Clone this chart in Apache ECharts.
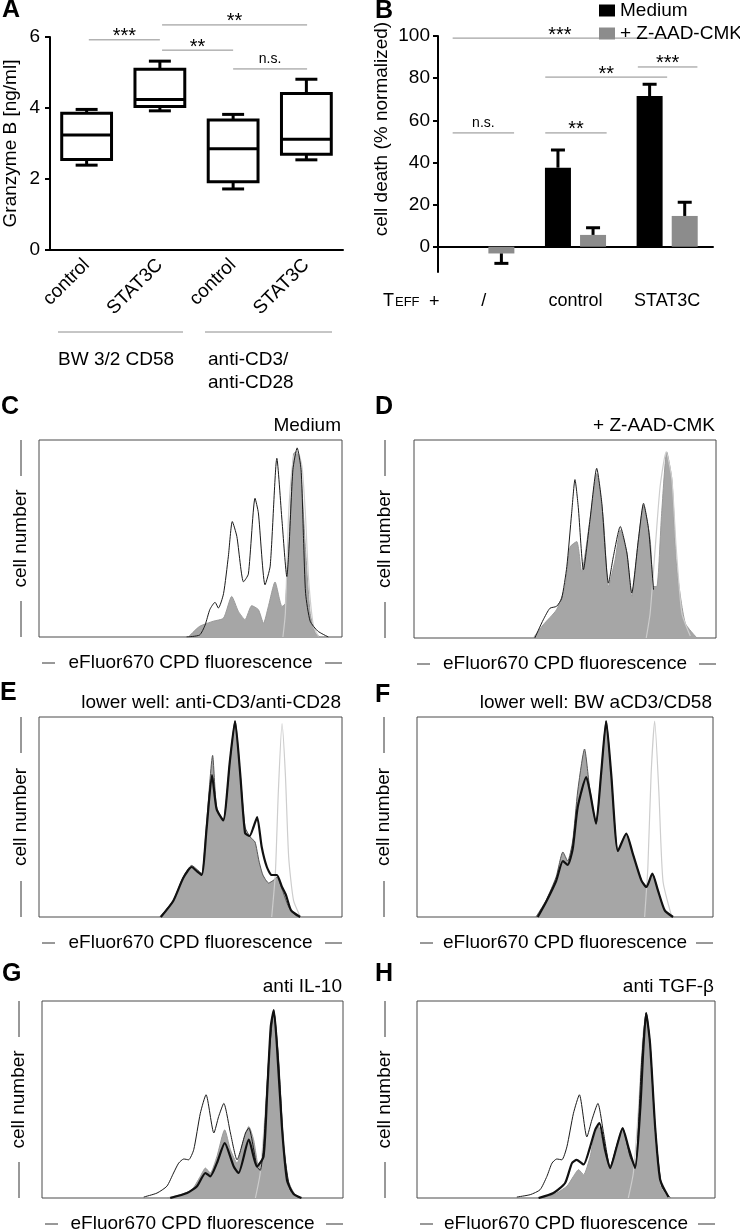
<!DOCTYPE html>
<html>
<head>
<meta charset="utf-8">
<script src="https://cdn.jsdelivr.net/npm/echarts@6/dist/echarts.min.js"></script>
<style>
html, body { margin: 0; padding: 0; background: #fff; }
#main { width: 740px; height: 1229px; }
</style>
</head>
<body>
<div id="main"></div>
<script>
var FONT = '"Liberation Sans", Arial, Helvetica, sans-serif';

// ---- panel A: granzyme B boxes
var gzbGroups = ['control', 'STAT3C', 'control', 'STAT3C'];
var gzbMin = [2.39, 3.92, 1.72, 2.54];
var gzbQ1 = [2.55, 4.04, 1.92, 2.70];
var gzbMedian = [3.24, 4.24, 2.85, 3.12];
var gzbQ3 = [3.85, 5.09, 3.66, 4.41];
var gzbMax = [3.96, 5.32, 3.82, 4.81];
var gzbTicks = [0, 2, 4, 6];
// [from, to, y, label], from/to in category units
var sigA = [[0.03, 1, 5.92, '***'], [1.03, 3.01, 6.34, '**'], [1.03, 2, 5.63, '**'], [2, 3.01, 5.10, 'n.s.']];

// ---- panel B: cell death
var deathCats = ['/', 'control', 'STAT3C'];
var deathMedium = [null, 37.5, 71.5];
var deathMediumErr = [null, 8.4, 5.6];
var deathZaad = [-3.2, 5.6, 14.6];
var deathZaadErr = [4.7, 3.4, 6.5];
var deathTicks = [0, 20, 40, 60, 80, 100];
var sigB = [[-0.34, 2, 99, '***'], [0.67, 2, 80.5, '**'], [1.68, 2.33, 85.3, '***'], [-0.34, 0.33, 54, 'n.s.'], [0.67, 1.34, 54, '**']];

// ---- histograms, [fluorescence %, cell number %]
var cFill = [[49.3,0],[53,5.4],[57.5,8],[60.9,9.6],[63.6,20.6],[65.8,13],[68,8.8],[70.2,15.9],[72.4,13.9],[74.1,7],[75.7,15.5],[77.9,27.9],[80.2,15.5],[81.3,17],[82.7,54],[84,93],[84.9,94],[86.2,88],[87.9,46],[89.5,12],[91.2,2],[92.8,0]];
var cOpen = [[48.7,0],[53,1],[54.8,6],[56.4,14],[58.1,17.6],[59.2,14.7],[60.9,22],[62.5,41],[63.8,58.6],[65.3,51],[67.5,28],[69.1,32],[71.3,70.4],[72.4,63],[74.6,26.5],[76.3,36],[78.5,90.7],[80.2,59],[81.8,30.7],[82.5,45],[83.8,85],[85.2,96],[86.5,85],[87.3,50],[88,22],[89.5,8],[92,3],[95.5,0]];
var cLight = [[80.5,0],[81.3,12],[82.4,63],[84,91.5],[85.4,94],[86.8,86.5],[87.9,63],[89,29],[90.6,5.4],[92.3,0.3]];

var dFill = [[39.5,0],[42.8,6.7],[47.2,14.3],[50,26],[51.7,46],[53.9,48.7],[55.5,33.6],[58.3,60],[60.5,83],[62.7,60],[64.4,26],[66.6,39.5],[68.3,54.6],[70.5,43],[72.1,21],[74.3,49.6],[76,67],[78.2,49.6],[79.3,26],[80.4,26],[82,63],[83.7,94],[85.4,80],[87,36],[89.8,7.6],[93.7,0]];
var dOpen = [[40,0],[42.8,9.2],[45,15],[47.2,16],[48.9,20],[50.6,36],[52.2,63],[53.3,80],[54.4,66],[56.1,34.5],[58.3,60],[60.5,85.7],[62.2,68],[64.4,27.7],[66,41],[68.3,56.3],[70.5,42.9],[72.1,22.7],[74.3,49.6],[76,68],[77.7,54.6],[79.3,24.4]];
var dLight = [[76.9,0],[78.2,12.6],[79.9,46],[81.5,76.5],[83.5,94],[85.4,80],[86.8,46],[88.7,12.6],[91.5,1]];

var eFill = [[39.9,0],[44.3,8.3],[47.6,20],[50.4,25.8],[52,24],[53.7,21.7],[55.3,46.7],[57.3,80.8],[58.6,55],[60.8,48.3],[63,78],[64.7,98],[66.4,71.7],[68,45],[69.7,40],[71.3,37.5],[72.6,28],[73.9,21],[75.8,17],[77.5,18.5],[78.5,20],[80.2,14],[82.4,5],[85,0.3]];
var eThick = [[40.2,0],[44.3,8],[47.6,19.5],[50.4,25],[52,23],[53.7,21],[55.3,44],[57.1,71],[58.6,54],[60.8,48.3],[63,78],[64.7,98],[66.4,71.7],[68,42],[69.5,40.5],[70.8,45],[72,50],[73.5,35],[75.2,25],[76.8,21],[78.5,21],[80.2,15],[81.5,11],[83.2,3.3],[86.2,0]];
var eLight = [[76.8,0],[78,21.7],[79,63],[80.2,96.7],[81.3,71.7],[82.4,30],[84,8.3],[86.2,0.3]];

var fFill = [[40.2,0],[43.6,8.3],[47,20],[49.3,32.5],[50.9,28],[52.6,38],[54.3,63],[56.6,84],[58.3,65],[60.5,46.7],[62.2,71.7],[63.9,98],[65.6,71.7],[67.9,33],[70.7,41.7],[72.9,31.7],[75.8,18.3],[77.5,15],[79.5,21.7],[81.4,13.3],[83.7,3.3],[86.5,0.3]];
var fThick = [[40.8,0],[43.6,7.5],[47,18],[49.3,28],[50.9,26],[52.6,34],[54.3,55],[57.2,70],[58.5,62],[60.5,46.7],[62.2,71.7],[63.9,98],[65.6,71.7],[67.9,33],[70.7,41.7],[72.9,31.7],[75.8,18.3],[77.5,15],[79.5,21.7],[81.4,13.3],[83.7,3.3],[86.5,0]];
var fLight = [[76.9,0],[78,25],[79.1,71.7],[80.3,98],[81.7,63],[83.1,18],[85.9,1]];

var gOpen = [[33.8,0.5],[38.2,2.5],[41.5,6],[43.7,12.7],[45.4,17.7],[47.1,19.8],[48.7,19.4],[50.4,24.5],[52.6,43],[54.5,52.4],[57.1,33],[58.7,41.4],[60.4,48],[62.6,33],[64.8,19.4],[67.6,33],[68.7,35.5],[71.4,16],[72.5,14],[73.6,26],[75.3,70],[77,94.6],[78.6,70],[80.3,26],[82.5,4],[85.3,0.3]];
var gFill = [[41.5,0],[46,1.7],[49.8,4.2],[52.6,11],[54.3,15.2],[55.9,12.7],[58.1,21],[60.7,34.6],[62.6,24.5],[64.8,17.7],[67,29.6],[68.7,36.3],[70.3,29.6],[72,16],[73.6,22.8],[74.8,53],[76,87],[77,95.4],[78,78.5],[79.7,36.3],[81.4,11],[83.6,2.5],[85.8,0.3]];
var gThick = [[42.6,0],[48.2,2.5],[51.5,6],[54.3,12.7],[55.9,11],[58.1,17.7],[60.7,27.9],[63.7,16],[65.3,12.7],[68.7,29.6],[71.4,16],[73.6,21],[74.8,53],[76,87],[77,95.4],[78,78.5],[79.7,36.3],[81.4,9],[83.6,2],[86.2,0]];
var gLight = [[70.9,0],[72.5,12.7],[74.2,44.8],[75.9,83.6],[77,94.6],[78.3,77],[80.1,33],[81.9,7.6],[84.7,0.5]];

var hOpen = [[33.5,0.5],[38,1.7],[41.3,4.2],[43.6,11],[45.3,17.7],[46.9,19.8],[48.6,19.4],[50.3,26],[52.5,43],[54.5,52.4],[57,31],[58.7,39.7],[60.7,48],[62.6,33],[64.8,16],[67.6,29.6],[69,35.5],[71.5,21],[73.2,16],[75.4,70],[76.9,94],[78.2,78.5],[79.9,36],[82.1,6],[84.9,0.3]];
var hFill = [[40.2,0],[45.8,1.7],[50.3,6],[52.5,11],[54.2,14.4],[55.9,11.8],[58.1,21],[59.4,31],[60.9,36.3],[62.6,26],[64.8,15.2],[67,26],[69,34.6],[70.9,26],[73.2,15.2],[74.9,44.8],[76,76.9],[76.9,93.8],[78.2,78.5],[79.9,36.3],[81.6,9.3],[84.4,0.5]];
var hThick = [[40.8,0],[45.8,2.5],[49.7,7.6],[52,17.7],[53.6,19.4],[55.9,17],[58.1,26],[59.8,34.6],[61.2,38],[63.1,24.5],[64.8,15.2],[67,26],[69,35.5],[70.9,26],[73.2,15.2],[74.9,44.8],[76,76.9],[76.9,93.8],[78.2,78.5],[79.9,36.3],[81.6,9.3],[84.4,0.5]];
var hLight = [[70.9,0],[72.6,12.7],[74.3,44.8],[75.8,82],[76.9,93.8],[78.2,77],[79.9,33],[81.8,6.8],[84.4,0.5]];

// layout
var gridA = {left: 47, top: 37, width: 296, height: 213};
var gridB = {left: 438, top: 36, width: 275, height: 236};
var histPanels = [
    {letter: 'C', lx: 1, ly: 407, box: [39, 440, 303, 197], title: 'Medium', yl: 21,
        curves: [[cFill, 'fill'], [cLight, 'light'], [cOpen, 'thin']]},
    {letter: 'D', lx: 375, ly: 407, box: [414, 440, 302, 198], title: '+ Z-AAD-CMK', yl: 385,
        curves: [[dFill, 'fill'], [dLight, 'light'], [dOpen, 'thin']]},
    {letter: 'E', lx: 0, ly: 693, box: [39, 717, 303, 200], title: 'lower well: anti-CD3/anti-CD28', yl: 21,
        curves: [[eFill, 'fillDark'], [eLight, 'light'], [eThick, 'thick']]},
    {letter: 'F', lx: 375, ly: 695, box: [417, 717, 296, 200], title: 'lower well: BW aCD3/CD58', yl: 384,
        curves: [[fFill, 'fillDark'], [fLight, 'light'], [fThick, 'thick']]},
    {letter: 'G', lx: 2, ly: 974, box: [42, 1001, 301, 197], title: 'anti IL-10', yl: 19,
        curves: [[gFill, 'fill'], [gLight, 'light'], [gOpen, 'thin'], [gThick, 'thick']]},
    {letter: 'H', lx: 375, ly: 974, box: [417, 1001, 298, 197], title: 'anti TGF-\u03b2', yl: 385,
        curves: [[hFill, 'fill'], [hLight, 'light'], [hOpen, 'thin'], [hThick, 'thick']]}
];

var curveStyle = {
    fill: {line: {color: '#9a9a9a', width: 1}, area: {color: '#a6a6a6', opacity: 1}, z: 2},
    fillDark: {line: {color: '#555', width: 1}, area: {color: '#a6a6a6', opacity: 1}, z: 2},
    light: {line: {color: '#cdcdcd', width: 1.2}, z: 3},
    thin: {line: {color: '#1a1a1a', width: 1}, z: 4},
    thick: {line: {color: '#111', width: 2.2}, z: 5}
};

function txt(x, y, s, size, opt) {
    opt = opt || {};
    return {
        type: 'text', x: x, y: y, rotation: opt.rot || 0, silent: true,
        style: {
            text: s, fontSize: size, fontFamily: FONT, fontWeight: opt.bold ? 'bold' : 'normal',
            fill: opt.color || '#000', align: opt.align || 'left', verticalAlign: opt.va || 'middle',
            lineHeight: opt.lh
        }
    };
}
function seg(x1, y1, x2, y2, color, w) {
    return {type: 'line', silent: true, shape: {x1: x1, y1: y1, x2: x2, y2: y2},
        style: {stroke: color || '#333', lineWidth: w || 1}};
}

var axisFont = {fontSize: 19, fontFamily: FONT, color: '#000'};
var grids = [gridA, gridB];
var xAxes = [], yAxes = [], series = [], graphics = [];

// ---- A axes
xAxes.push({
    gridIndex: 0, type: 'category', data: gzbGroups,
    axisLine: {lineStyle: {color: '#000', width: 2}},
    axisTick: {alignWithLabel: true, length: 8, lineStyle: {color: '#000', width: 2}},
    axisLabel: Object.assign({rotate: 45, margin: 12, interval: 0}, axisFont)
});
yAxes.push({
    gridIndex: 0, type: 'value', min: 0, max: 6,
    axisLine: {show: true, lineStyle: {color: '#000', width: 2}},
    axisTick: {show: true, length: 5, customValues: gzbTicks, lineStyle: {color: '#000', width: 2}},
    axisLabel: Object.assign({margin: 10, customValues: gzbTicks}, axisFont),
    splitLine: {show: false},
    name: 'Granzyme B [ng/ml]', nameLocation: 'middle', nameGap: 30, nameTextStyle: axisFont
});

// ---- B axes
xAxes.push({
    gridIndex: 1, type: 'category', data: deathCats,
    axisLine: {onZero: true, lineStyle: {color: '#000', width: 2}},
    axisTick: {show: false},
    axisLabel: Object.assign({margin: 20, interval: 0}, axisFont, {fontSize: 18})
});
yAxes.push({
    gridIndex: 1, type: 'value', min: -12, max: 100,
    axisLine: {show: true, lineStyle: {color: '#000', width: 2}},
    axisTick: {show: true, length: 5, customValues: deathTicks, lineStyle: {color: '#000', width: 2}},
    axisLabel: Object.assign({margin: 8, customValues: deathTicks}, axisFont),
    splitLine: {show: false}
});

function sigRender(list) {
    return function (params, api) {
        var d = list[params.dataIndex];
        var band = api.size([1, 0])[0];
        var p = api.coord([0, d[2]]);
        var x1 = p[0] + d[0] * band, x2 = p[0] + d[1] * band, y = p[1];
        var ns = d[3] === 'n.s.';
        return {type: 'group', children: [
            seg(x1, y, x2, y, '#8c8c8c', 1),
            {type: 'text', style: {text: d[3], x: (x1 + x2) / 2, y: y - (ns ? 10 : 3),
                align: 'center', verticalAlign: 'middle', fontSize: ns ? 14 : 20, fontFamily: FONT, fill: '#000'}}
        ]};
    };
}

// boxes
series.push({
    type: 'custom', xAxisIndex: 0, yAxisIndex: 0, z: 3,
    data: gzbGroups.map(function (g, i) { return [i, gzbMin[i], gzbQ1[i], gzbMedian[i], gzbQ3[i], gzbMax[i]]; }),
    encode: {x: 0, y: [1, 2, 3, 4, 5]},
    renderItem: function (params, api) {
        var i = api.value(0);
        var band = api.size([1, 0])[0];
        var x = api.coord([i, 0])[0];
        var hw = band * 0.34, cw = band * 0.15;
        var yMin = api.coord([i, api.value(1)])[1];
        var yQ1 = api.coord([i, api.value(2)])[1];
        var yMed = api.coord([i, api.value(3)])[1];
        var yQ3 = api.coord([i, api.value(4)])[1];
        var yMax = api.coord([i, api.value(5)])[1];
        return {type: 'group', children: [
            {type: 'rect', shape: {x: x - hw, y: yQ3, width: 2 * hw, height: yQ1 - yQ3},
                style: {stroke: '#000', lineWidth: 3, fill: 'none'}},
            seg(x - hw, yMed, x + hw, yMed, '#000', 3),
            seg(x, yQ3, x, yMax, '#000', 3),
            seg(x, yQ1, x, yMin, '#000', 3),
            seg(x - cw, yMax, x + cw, yMax, '#000', 3),
            seg(x - cw, yMin, x + cw, yMin, '#000', 3)
        ]};
    }
});
series.push({
    type: 'custom', xAxisIndex: 0, yAxisIndex: 0, z: 3, clip: false,
    data: sigA.map(function (d, i) { return [i, d[2]]; }),
    encode: {x: 0, y: 1},
    renderItem: sigRender(sigA)
});

// bars
var BAR_W = 26, BAR_GAP = 0.35;
series.push({type: 'bar', name: 'Medium', xAxisIndex: 1, yAxisIndex: 1, data: deathMedium,
    barWidth: BAR_W, barGap: (BAR_GAP * 100) + '%', itemStyle: {color: '#000'}});
series.push({type: 'bar', name: '+ Z-AAD-CMK', xAxisIndex: 1, yAxisIndex: 1, data: deathZaad,
    barWidth: BAR_W, barGap: (BAR_GAP * 100) + '%', itemStyle: {color: '#8c8c8c'}});

function errRender(vals, errs, side) {
    return function (params, api) {
        var i = params.dataIndex;
        if (vals[i] == null) return null;
        var off = side * BAR_W * (1 + BAR_GAP) / 2;
        var base = api.coord([i, vals[i]]);
        var tip = api.coord([i, vals[i] + (vals[i] < 0 ? -errs[i] : errs[i])]);
        var x = base[0] + off;
        return {type: 'group', children: [
            seg(x, base[1], x, tip[1], '#000', 3),
            seg(x - 7, tip[1], x + 7, tip[1], '#000', 3)
        ]};
    };
}
[[deathMedium, deathMediumErr, -1], [deathZaad, deathZaadErr, 1]].forEach(function (e) {
    series.push({
        type: 'custom', xAxisIndex: 1, yAxisIndex: 1, z: 4,
        data: deathCats.map(function (c, i) { return [i, e[0][i] == null ? 0 : e[0][i]]; }),
        encode: {x: 0, y: 1},
        renderItem: errRender(e[0], e[1], e[2])
    });
});
series.push({
    type: 'custom', xAxisIndex: 1, yAxisIndex: 1, z: 3, clip: false,
    data: sigB.map(function (d, i) { return [i, d[2]]; }),
    encode: {x: 0, y: 1},
    renderItem: sigRender(sigB)
});

// ---- histograms
histPanels.forEach(function (p, k) {
    var gi = k + 2;
    var l = p.box[0], t = p.box[1], w = p.box[2], h = p.box[3];
    grids.push({left: l, top: t, width: w, height: h, show: true, borderColor: '#4a4a4a', borderWidth: 1});
    xAxes.push({gridIndex: gi, type: 'value', min: 0, max: 100, show: false});
    yAxes.push({gridIndex: gi, type: 'value', min: 0, max: 100, show: false});
    p.curves.forEach(function (c) {
        var st = curveStyle[c[1]];
        var s = {
            type: 'line', xAxisIndex: gi, yAxisIndex: gi, data: c[0], showSymbol: false, symbol: 'none',
            smooth: 0.2, lineStyle: st.line, z: st.z, silent: true
        };
        if (st.area) s.areaStyle = st.area;
        series.push(s);
    });
    var cx = l + w / 2, cy = t + h / 2, r = l + w, b = t + h;
    graphics.push(txt(p.lx, p.ly, p.letter, 25, {bold: true}));
    graphics.push(txt(r - 1, t - 14, p.title, 19, {align: 'right'}));
    graphics.push(txt(cx, b + 26, 'eFluor670 CPD fluorescence', 19, {align: 'center'}));
    graphics.push(seg(l + 3, b + 26, l + 16, b + 26, '#333', 1));
    graphics.push(seg(r - 17, b + 26, r, b + 26, '#333', 1));
    graphics.push(txt(p.yl, cy, 'cell number', 19, {align: 'center', rot: Math.PI / 2}));
    graphics.push(seg(p.yl, t, p.yl, t + 36, '#333', 1));
    graphics.push(seg(p.yl, b - 36, p.yl, b, '#333', 1));
});

// ---- A/B decorations
graphics.push(txt(2, 10, 'A', 25, {bold: true}));
graphics.push(txt(375, 11, 'B', 25, {bold: true}));
graphics.push(txt(382, 129, 'cell death (% normalized)', 19, {align: 'center', rot: Math.PI / 2}));
graphics.push(seg(58, 332, 183, 332, '#8c8c8c', 1));
graphics.push(seg(205, 332, 332, 332, '#8c8c8c', 1));
graphics.push(txt(58, 360, 'BW 3/2 CD58', 19));
graphics.push(txt(208, 371, 'anti-CD3/\nanti-CD28', 19, {lh: 23}));
graphics.push(txt(383, 310, 'T', 18, {va: 'bottom'}));
graphics.push(txt(395, 309, 'EFF', 13, {va: 'bottom'}));
graphics.push(txt(429, 302, '+', 18));

var myChart = echarts.init(document.getElementById('main'));
var option = {
    animation: false,
    backgroundColor: '#fff',
    legend: {
        data: ['Medium', '+ Z-AAD-CMK'], orient: 'vertical', left: 599, top: 1, padding: 0,
        itemWidth: 16, itemHeight: 12, itemGap: 4, icon: 'rect',
        textStyle: {fontSize: 19, fontFamily: FONT, color: '#000'}
    },
    grid: grids,
    xAxis: xAxes,
    yAxis: yAxes,
    series: series,
    graphic: graphics
};
myChart.setOption(option);
</script>
</body>
</html>
